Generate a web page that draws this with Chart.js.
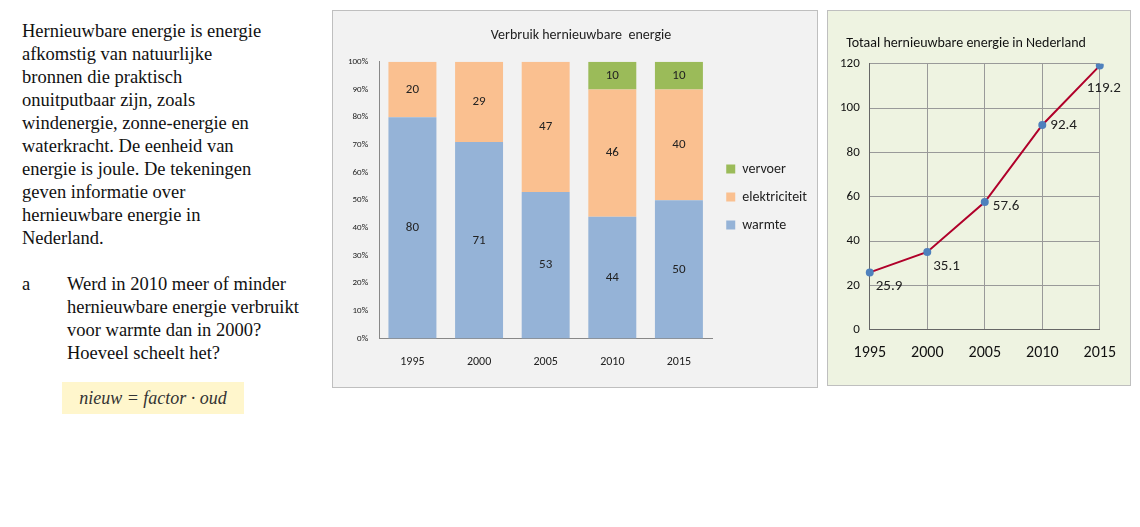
<!DOCTYPE html>
<html><head><meta charset="utf-8">
<script src="https://cdn.jsdelivr.net/npm/chart.js@4"></script>
<style>
body{margin:0;background:#fff;width:1140px;height:527px;position:relative;overflow:hidden;font-family:"Liberation Serif",serif}
#txt{position:absolute;left:22px;top:20px;font-size:18.5px;line-height:23px;color:#111;width:300px;white-space:nowrap}
#q{position:absolute;left:22px;top:273px;font-size:18.5px;line-height:23px;color:#111}
#q .a{position:absolute;left:0;top:0}
#q .b{position:absolute;left:45px;top:0;width:260px}
#f{position:absolute;left:62px;top:382px;width:182px;height:32px;background:#fff6cc;font-style:italic;font-size:18px;line-height:32px;text-align:center;color:#333}
.p1{position:absolute;left:332px;top:10px;width:484px;height:376px;border:1px solid #bfbfbf;background:#f2f2f2}
.p2{position:absolute;left:827px;top:10px;width:302px;height:374px;border:1px solid #bfbfbf;background:#eef3e1}
</style></head><body>
<div id="txt">Hernieuwbare energie is energie<br>afkomstig van natuurlijke<br>bronnen die praktisch<br>onuitputbaar zijn, zoals<br>windenergie, zonne-energie en<br>waterkracht. De eenheid van<br>energie is joule. De tekeningen<br>geven informatie over<br>hernieuwbare energie in<br>Nederland.</div>
<div id="q"><span class="a">a</span><span class="b" style="white-space:nowrap">Werd in 2010 meer of minder<br>hernieuwbare energie verbruikt<br>voor warmte dan in 2000?<br>Hoeveel scheelt het?</span></div>
<div id="f">nieuw = factor · oud</div>
<div class="p1"><canvas id="c1" width="484" height="376"></canvas></div>
<div class="p2"><canvas id="c2" width="302" height="374"></canvas></div>
<script>
const years = ['1995','2000','2005','2010','2015'];
const warmte = [80,71,53,44,50];
const elektriciteit = [20,29,47,46,40];
const vervoer = [0,0,0,10,10];
const totaal = [25.9,35.1,57.6,92.4,119.2];
const font = "Calibri, Carlito, 'Liberation Sans', sans-serif";

const barLabels = {id:'bl',afterDatasetsDraw(c){const ctx=c.ctx;ctx.save();ctx.font='13px '+font;ctx.fillStyle='#222';ctx.textAlign='center';ctx.textBaseline='middle';
 c.data.datasets.forEach((ds,i)=>{c.getDatasetMeta(i).data.forEach((b,j)=>{const v=ds.data[j];if(!v)return;ctx.fillText(v,b.x,(b.y+b.base)/2);});});ctx.restore();}};

new Chart(document.getElementById('c1'),{type:'bar',
 data:{labels:years,datasets:[
  {label:'warmte',data:warmte,backgroundColor:'#95b3d7'},
  {label:'elektriciteit',data:elektriciteit,backgroundColor:'#fac090'},
  {label:'vervoer',data:vervoer,backgroundColor:'#9bbb59'}]},
 options:{responsive:false,animation:false,layout:{padding:{left:12,right:0,top:6,bottom:10}},
  datasets:{bar:{categoryPercentage:1,barPercentage:0.72}},
  plugins:{title:{display:true,text:'Verbruik hernieuwbare  energie',color:'#222',font:{family:font,size:14,weight:'normal'},padding:{top:10,bottom:18}},
   legend:{position:'right',reverse:true,labels:{boxWidth:9,boxHeight:9,color:'#222',font:{family:font,size:14},padding:14}},tooltip:{enabled:false}},
  scales:{x:{stacked:true,grid:{display:false},border:{color:'#888'},ticks:{color:'#222',font:{family:font,size:12},padding:8}},
   y:{stacked:true,min:0,max:100,grid:{display:false,drawTicks:true},border:{color:'#888'},ticks:{stepSize:10,color:'#222',font:{family:font,size:9},callback:v=>v+'%'}}}},
 plugins:[barLabels]});

const lineLabels = {id:'ll',afterDatasetsDraw(c){const ctx=c.ctx;ctx.save();ctx.font='15px '+font;ctx.fillStyle='#222';ctx.textBaseline='middle';
 const off=[[6,14],[6,14],[8,4],[8,0],[4,23]];
 c.getDatasetMeta(0).data.forEach((p,j)=>{ctx.textAlign=j==4?'center':'left';ctx.fillText(totaal[j].toFixed(1),p.x+off[j][0],p.y+off[j][1]);});ctx.restore();}};

new Chart(document.getElementById('c2'),{type:'line',
 data:{labels:years,datasets:[{data:totaal,borderColor:'#b0002a',borderWidth:2,pointRadius:3,pointBackgroundColor:'#4f81bd',pointBorderColor:'#4f81bd',tension:0}]},
 options:{responsive:false,animation:false,layout:{padding:{left:2,right:28,top:10,bottom:8}},
  plugins:{title:{display:true,text:'Totaal hernieuwbare energie in Nederland',color:'#111',font:{family:font,size:14,weight:'normal'},padding:{top:14,bottom:12}},legend:{display:false},tooltip:{enabled:false}},
  scales:{x:{offset:false,grid:{color:'#999',drawTicks:false},border:{color:'#666'},ticks:{color:'#111',font:{family:font,size:16},padding:14}},
   y:{min:0,max:120,grid:{color:'#999',drawTicks:false},border:{color:'#666'},ticks:{stepSize:20,color:'#111',font:{family:font,size:13},padding:10}}}},
 plugins:[lineLabels]});
</script></body></html>
